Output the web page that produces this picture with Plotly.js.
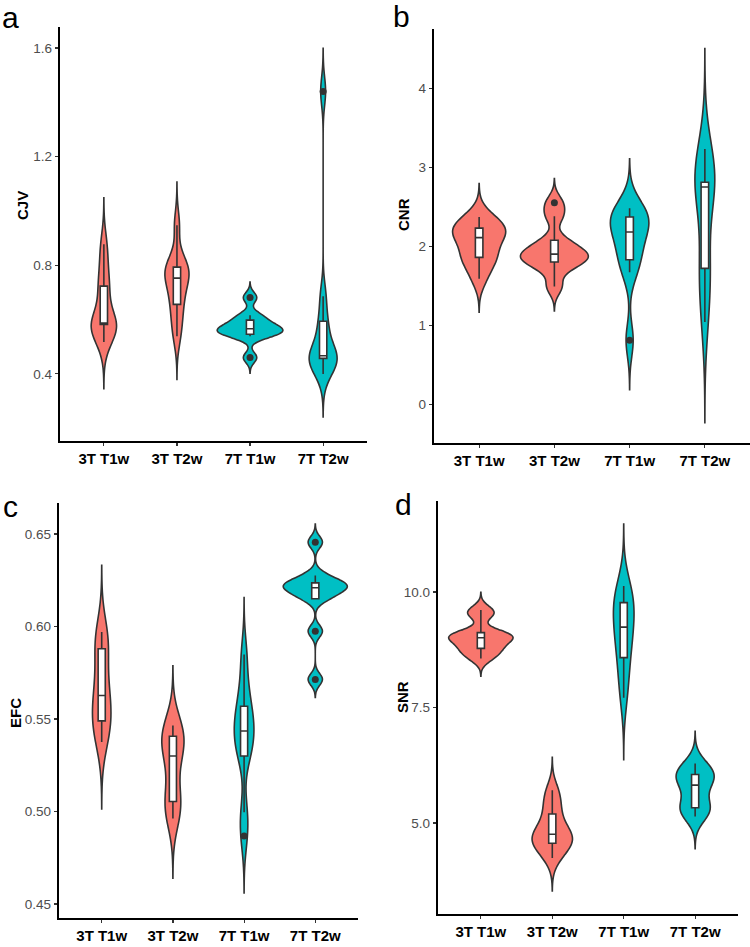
<!DOCTYPE html>
<html>
<head>
<meta charset="utf-8">
<script src="https://cdn.plot.ly/plotly-3.0.1.min.js"></script>
<style>html,body{margin:0;padding:0;background:#fff;}#chart{width:750px;height:947px;}</style>
</head>
<body>
<div id="chart"></div>
<script>
// ---- categories ----
const categories = ['3T T1w', '3T T2w', '7T T1w', '7T T2w'];

// ---- panel a: CJV (estimated per-subject values) ----
const cjv_3T_T1w = [0.517, 0.560, 0.582, 0.584, 0.586, 0.588, 0.700, 0.723, 0.800, 0.877];
const cjv_3T_T2w = [0.539, 0.600, 0.656, 0.690, 0.745, 0.760, 0.780, 0.793, 0.810, 0.947];
const cjv_7T_T1w = [0.460, 0.539, 0.546, 0.555, 0.563, 0.569, 0.580, 0.598, 0.616, 0.681];
const cjv_7T_T2w = [0.400, 0.440, 0.457, 0.462, 0.465, 0.469, 0.550, 0.594, 0.686, 1.440];

// ---- panel b: CNR ----
const cnr_3T_T1w = [1.59, 1.78, 1.86, 1.92, 2.08, 2.14, 2.18, 2.23, 2.30, 2.37];
const cnr_3T_T2w = [1.49, 1.72, 1.80, 1.84, 1.88, 1.92, 1.98, 2.076, 2.38, 2.55];
const cnr_7T_T1w = [0.81, 1.67, 1.83, 1.95, 2.12, 2.24, 2.30, 2.37, 2.44, 2.48];
const cnr_7T_T2w = [1.04, 1.45, 1.72, 1.95, 2.72, 2.78, 2.80, 2.81, 3.00, 3.23];

// ---- panel c: EFC ----
const efc_3T_T1w = [0.5375, 0.544, 0.549, 0.553, 0.560, 0.5655, 0.575, 0.588, 0.593, 0.597];
const efc_3T_T2w = [0.4962, 0.501, 0.5054, 0.512, 0.527, 0.533, 0.537, 0.5407, 0.544, 0.5465];
const efc_7T_T1w = [0.4867, 0.4996, 0.530, 0.535, 0.541, 0.546, 0.551, 0.5569, 0.568, 0.5849];
const efc_7T_T2w = [0.5714, 0.5975, 0.615, 0.618, 0.620, 0.622, 0.623, 0.6236, 0.6276, 0.6456];

// ---- panel d: SNR ----
const snr_3T_T1w = [8.56, 8.70, 8.78, 8.90, 8.98, 9.04, 9.08, 9.12, 9.50, 9.61];
const snr_3T_T2w = [4.24, 4.45, 4.56, 4.62, 4.72, 4.79, 4.95, 5.195, 5.45, 5.71];
const snr_7T_T1w = [7.71, 8.20, 8.58, 8.90, 9.15, 9.33, 9.60, 9.77, 9.95, 10.13];
const snr_7T_T2w = [5.14, 5.25, 5.33, 5.45, 5.75, 5.89, 6.00, 6.05, 6.15, 6.29];

// ---- labels ----
const panelLetters = ['a', 'b', 'c', 'd'];
const yTitles = ['CJV', 'CNR', 'EFC', 'SNR'];

// ---- style ----
const fill3T = '#F8766D';
const fill7T = '#00BFC4';
const inkColor = '#333333';
const FONT = 'Liberation Sans, Arial, Helvetica, sans-serif';
const MAX_VIOLIN_WIDTH = 0.9;   // ggplot default
const BOX_WIDTH = 0.1;          // in category units

// R's bw.nrd0 (ggplot2 default bandwidth)
function quantile7(sorted, p) {
  const h = (sorted.length - 1) * p;
  const lo = Math.floor(h), hi = Math.ceil(h);
  return sorted[lo] + (h - lo) * (sorted[hi] - sorted[lo]);
}
function nrd0(vals) {
  const s = vals.slice().sort((a, b) => a - b);
  const n = s.length;
  const mean = s.reduce((a, b) => a + b, 0) / n;
  const sd = Math.sqrt(s.reduce((a, b) => a + (b - mean) * (b - mean), 0) / (n - 1));
  const iqr = quantile7(s, 0.75) - quantile7(s, 0.25);
  let lo = Math.min(sd, iqr / 1.34);
  if (!(lo > 0)) lo = sd || Math.abs(s[0]) || 1;
  return 0.9 * lo * Math.pow(n, -0.2);
}
// peak of the gaussian KDE (same normalisation as Plotly's), for area scaling
function peakKDE(vals, bw, span) {
  const n = vals.length, f = 1 / (n * bw * Math.sqrt(2 * Math.PI));
  let best = 0;
  const steps = 600, step = (span[1] - span[0]) / steps;
  for (let k = 0; k <= steps; k++) {
    const t = span[0] + k * step;
    let s = 0;
    for (let i = 0; i < n; i++) { const z = (t - vals[i]) / bw; s += Math.exp(-0.5 * z * z); }
    best = Math.max(best, f * s);
  }
  return best;
}

function violinSpec(vals) {
  const bw = nrd0(vals);
  const span = [Math.min.apply(null, vals) - 3 * bw, Math.max.apply(null, vals) + 3 * bw];
  return {bw: bw, span: span, peak: peakKDE(vals, bw, span)};
}

function violin(vals, spec, cat, xa, ya, color, width) {
  return {
    type: 'violin', x0: cat, y: vals, xaxis: xa, yaxis: ya, name: cat,
    width: width, scalemode: 'width',
    bandwidth: spec.bw, spanmode: 'manual', span: spec.span,
    fillcolor: color, opacity: 1,
    line: {color: inkColor, width: 1.6},
    points: 'outliers', pointpos: 0, jitter: 0,
    marker: {color: inkColor, size: 7, line: {width: 0}},
    box: {visible: true, width: Math.min(1, BOX_WIDTH / width), fillcolor: '#ffffff',
          line: {color: inkColor, width: 1.6}},
    meanline: {visible: false},
    hoverinfo: 'skip', showlegend: false
  };
}

const panels = [
  {data: [cjv_3T_T1w, cjv_3T_T2w, cjv_7T_T1w, cjv_7T_T2w], xa: 'x', ya: 'y'},
  {data: [cnr_3T_T1w, cnr_3T_T2w, cnr_7T_T1w, cnr_7T_T2w], xa: 'x2', ya: 'y2'},
  {data: [efc_3T_T1w, efc_3T_T2w, efc_7T_T1w, efc_7T_T2w], xa: 'x3', ya: 'y3'},
  {data: [snr_3T_T1w, snr_3T_T2w, snr_7T_T1w, snr_7T_T2w], xa: 'x4', ya: 'y4'}
];
const fills = [fill3T, fill3T, fill7T, fill7T];

const traces = [];
panels.forEach(p => {
  const specs = p.data.map(violinSpec);
  const maxPeak = Math.max.apply(null, specs.map(s => s.peak));
  p.data.forEach((vals, ci) => {
    // ggplot scale = "area": width proportional to the density peak
    const w = MAX_VIOLIN_WIDTH * specs[ci].peak / maxPeak;
    traces.push(violin(vals, specs[ci], categories[ci], p.xa, p.ya, fills[ci], w));
  });
});

function xAxis(domain, anchor) {
  return {
    domain: domain, anchor: anchor, type: 'category',
    categoryorder: 'array', categoryarray: categories,
    range: [-0.6, 3.6], fixedrange: true,
    showline: true, linecolor: '#000', linewidth: 1.8, mirror: false,
    showgrid: false, zeroline: false,
    ticks: 'outside', ticklen: 3.5, tickwidth: 1.2, tickcolor: inkColor,
    tickfont: {family: FONT, size: 15, color: '#000', weight: 'bold'}
  };
}
function yAxis(domain, anchor, range, tickvals, fmt) {
  return {
    domain: domain, anchor: anchor, range: range, fixedrange: true,
    tickvals: tickvals, tickformat: fmt,
    showline: true, linecolor: '#000', linewidth: 1.8,
    showgrid: false, zeroline: false,
    ticks: 'outside', ticklen: 3.5, tickwidth: 1.2, tickcolor: inkColor,
    tickfont: {family: FONT, size: 13.5, color: '#4D4D4D'}
  };
}

const W = 750, H = 947;
const px = v => v / W;
const py = v => 1 - v / H;

const layout = {
  width: W, height: H,
  margin: {l: 0, r: 0, t: 0, b: 0},
  paper_bgcolor: '#fff', plot_bgcolor: '#fff',
  showlegend: false, violinmode: 'overlay',
  font: {family: FONT},
  xaxis: xAxis([px(60), px(367)], 'y'),
  yaxis: yAxis([py(441), py(27)], 'x', [0.153, 1.677], [0.4, 0.8, 1.2, 1.6], '.1f'),
  xaxis2: xAxis([px(434), px(750)], 'y2'),
  yaxis2: yAxis([py(443), py(29)], 'x2', [-0.49, 4.75], [0, 1, 2, 3, 4], 'd'),
  xaxis3: xAxis([px(59), px(358)], 'y3'),
  yaxis3: yAxis([py(918), py(503)], 'x3', [0.4424, 0.6668], [0.45, 0.50, 0.55, 0.60, 0.65], '.2f'),
  xaxis4: xAxis([px(438), px(738)], 'y4'),
  yaxis4: yAxis([py(914), py(501)], 'x4', [3.03, 11.97], [5, 7.5, 10], '.1f'),
  annotations: []
};

const letterPos = [[0, 17.5], [391, 16.5], [1, 506.5], [393, 504.5]];
panelLetters.forEach((t, i) => {
  layout.annotations.push({
    text: t, xref: 'paper', yref: 'paper',
    x: px(letterPos[i][0]), y: py(letterPos[i][1]),
    xanchor: 'left', yanchor: 'middle', showarrow: false,
    font: {family: FONT, size: 30, color: '#000'}
  });
});
const titlePos = [[23, 206], [403, 215], [15, 713], [402, 697]];
yTitles.forEach((t, i) => {
  layout.annotations.push({
    text: t, xref: 'paper', yref: 'paper',
    x: px(titlePos[i][0]), y: py(titlePos[i][1]),
    xanchor: 'center', yanchor: 'middle', textangle: -90, showarrow: false,
    font: {family: FONT, size: 15, color: '#000', weight: 'bold'}
  });
});

Plotly.newPlot('chart', traces, layout, {staticPlot: true, displayModeBar: false});
</script>
</body>
</html>
